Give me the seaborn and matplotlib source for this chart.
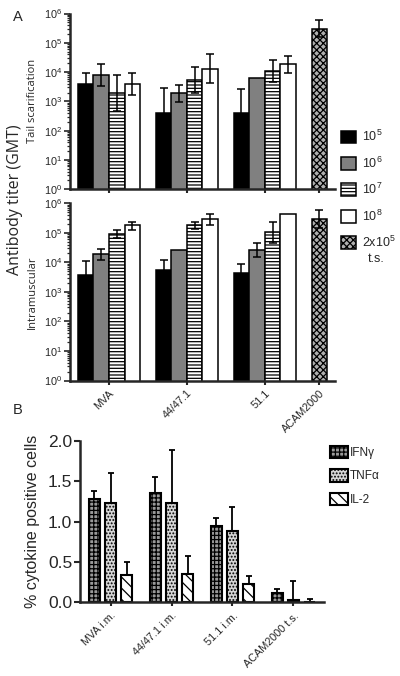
import numpy as np
import pandas as pd
import matplotlib
matplotlib.use("Agg")
import matplotlib.pyplot as plt
from matplotlib.patches import Patch
from matplotlib.ticker import LogLocator, NullFormatter, FormatStrFormatter
import seaborn as sns

# -------------------------------
# Panel A data (GMT antibody titers)
# -------------------------------
groups_a = ["MVA", "44/47.1", "51.1", "ACAM2000"]
doses = ["$10^5$", "$10^6$", "$10^7$", "$10^8$", "2x$10^5$"]
group_doses = [[0, 1, 2, 3], [0, 1, 2, 3], [0, 1, 2, 3], [4]]

scar_gmt = [[3.9e3, 7.8e3, 1.9e3, 3.8e3], [410, 1.9e3, 5.4e3, 1.27e4],
            [410, 6.4e3, 1.1e4, 1.85e4], [2.95e5]]
scar_hi = [[9.5e3, 1.85e4, 7.8e3, 9.3e3], [2.8e3, 3.6e3, 1.5e4, 4.0e4],
           [2.7e3, np.nan, 2.6e4, 3.6e4], [6.0e5]]
scar_lo = [[1.6e3, 3.4e3, 480, 1.65e3], [60, 980, 1.9e3, 4.1e3],
           [60, np.nan, 4.7e3, 9.5e3], [1.55e5]]

im_gmt = [[3.6e3, 1.9e4, 9.1e4, 1.78e5], [5.4e3, 2.6e4, 1.78e5, 2.9e5],
          [4.2e3, 2.6e4, 1.03e5, 4.2e5], [2.9e5]]
im_hi = [[1.1e4, 2.75e4, 1.23e5, 2.4e5], [1.2e4, np.nan, 2.4e5, 4.2e5],
         [8.6e3, 4.6e4, 2.3e5, np.nan], [5.9e5]]
im_lo = [[1.2e3, 1.2e4, 6.5e4, 1.23e5], [2.4e3, np.nan, 1.3e5, 1.9e5],
         [2.0e3, 1.55e4, 4.6e4, np.nan], [1.5e5]]

# -------------------------------
# Panel B data (% cytokine positive cells)
# -------------------------------
groups_b = ["MVA i.m.", "44/47.1 i.m.", "51.1 i.m.", "ACAM2000 t.s."]
cytokines = ["IFNγ", "TNFα", "IL-2"]
cyt_mean = [[1.28, 1.23, 0.34], [1.35, 1.23, 0.35],
            [0.945, 0.88, 0.23], [0.12, 0.03, 0.005]]
cyt_hi = [[1.38, 1.60, 0.50], [1.55, 1.885, 0.57],
          [1.04, 1.18, 0.32], [0.16, 0.26, 0.04]]

# styles
dose_colors = dict(zip(doses, ["black", "#808080", "white", "white", "#b0b0b0"]))
dose_hatch = dict(zip(doses, ["", "", "-----", "", "xxxxx"]))
cyt_colors = dict(zip(cytokines, ["#9a9a9a", "#d6d6d6", "white"]))
cyt_hatch = dict(zip(cytokines, ["++++", ".....", "\\\\\\"]))
group_start = [0, 5, 10, 15]

sns.set_theme(style="ticks")
plt.rcParams["font.family"] = ["Liberation Sans", "DejaVu Sans"]
plt.rcParams["mathtext.fontset"] = "custom"
plt.rcParams["mathtext.rm"] = "Liberation Sans"
plt.rcParams["mathtext.default"] = "regular"
plt.rcParams["hatch.color"] = "black"
plt.rcParams["hatch.linewidth"] = 0.9


def build_a(gmt, lo, hi):
    rows = []
    for g, name in enumerate(groups_a):
        for k, d in enumerate(group_doses[g]):
            rows.append({"group": name, "dose": doses[d], "pos": group_start[g] + k,
                         "gmt": gmt[g][k], "lo": lo[g][k], "hi": hi[g][k]})
    return pd.DataFrame(rows)


def set_hatches(ax, df, col, hatch_map):
    for p in ax.patches:
        xc = p.get_x() + p.get_width() / 2
        i = (df["pos"] - xc).abs().idxmin()
        p.set_hatch(hatch_map[df.loc[i, col]])


def panel_a(ax, gmt, lo, hi, ylabel, show_labels):
    df = build_a(gmt, lo, hi)
    ax.set_yscale("log")
    sns.barplot(data=df, x="pos", y="gmt", hue="dose", hue_order=doses,
                palette=dose_colors, native_scale=True, dodge=False, width=1.0,
                edgecolor="black", linewidth=1.1, errorbar=None, legend=False, ax=ax)
    set_hatches(ax, df, "dose", dose_hatch)
    e = df.dropna()
    ax.errorbar(e["pos"], e["gmt"], yerr=[e["gmt"] - e["lo"], e["hi"] - e["gmt"]],
                fmt="none", ecolor="black", elinewidth=1.1, capsize=3.2, capthick=1.1)
    ax.set_ylim(1, 1e6)
    ax.set_xlim(-1, 16)
    ax.yaxis.set_major_locator(LogLocator(base=10, numticks=10))
    ax.yaxis.set_minor_locator(LogLocator(base=10, subs=np.arange(2, 10), numticks=20))
    ax.yaxis.set_minor_formatter(NullFormatter())
    centers = df.groupby("group", sort=False)["pos"].mean()
    ax.set_xticks(centers.values)
    if show_labels:
        ax.set_xticklabels(groups_a, rotation=45, ha="right", rotation_mode="anchor",
                           fontsize=7.8)
    else:
        ax.set_xticklabels([])
    ax.tick_params(axis="y", which="major", length=4, width=1.2, labelsize=7.8, pad=1.5)
    ax.tick_params(axis="y", which="minor", length=2.5, width=0.9)
    ax.tick_params(axis="x", length=3, width=1.5, pad=2.5)
    for s in ["left", "bottom"]:
        ax.spines[s].set_linewidth(1.8)
    sns.despine(ax=ax)
    ax.set_xlabel("")
    ax.set_ylabel(ylabel, fontsize=8, family=["Open Sans", "DejaVu Sans"])
    ax.yaxis.set_label_coords(-0.12, 0.5)


fig = plt.figure(figsize=(4, 6.76), dpi=100)
ax1 = fig.add_axes([0.175, 0.720, 0.6625, 0.260])
ax2 = fig.add_axes([0.175, 0.437, 0.6625, 0.2624])
ax3 = fig.add_axes([0.200, 0.109, 0.610, 0.239])

panel_a(ax1, scar_gmt, scar_lo, scar_hi, "Tail scarification", False)
panel_a(ax2, im_gmt, im_lo, im_hi, "Intramuscular", True)

# ---------- Panel B ----------
rows = []
for g, name in enumerate(groups_b):
    for j, c in enumerate(cytokines):
        rows.append({"group": name, "cytokine": c, "pos": g * 3.8 + j,
                     "pct": cyt_mean[g][j], "hi": cyt_hi[g][j]})
dfb = pd.DataFrame(rows)

sns.barplot(data=dfb, x="pos", y="pct", hue="cytokine", hue_order=cytokines,
            palette=cyt_colors, native_scale=True, dodge=False, width=0.7,
            edgecolor="black", linewidth=1.5, errorbar=None, legend=False, ax=ax3)
set_hatches(ax3, dfb, "cytokine", cyt_hatch)
ax3.errorbar(dfb["pos"], dfb["pct"], yerr=[np.zeros(len(dfb)), dfb["hi"] - dfb["pct"]],
             fmt="none", ecolor="black", elinewidth=1.3, capsize=2.3, capthick=1.3)
ax3.set_ylim(0, 2.0)
ax3.set_xlim(-0.9, 14.3)
ax3.set_yticks([0, 0.5, 1.0, 1.5, 2.0])
ax3.yaxis.set_major_formatter(FormatStrFormatter("%.1f"))
bc = dfb.groupby("group", sort=False)["pos"].mean()
ax3.set_xticks(bc.values)
ax3.set_xticklabels(groups_b, rotation=45, ha="right", rotation_mode="anchor", fontsize=7.8)
ax3.tick_params(axis="y", length=4, width=1.5, labelsize=12.5, pad=1.5)
ax3.tick_params(axis="x", length=3, width=1.5, pad=3)
for s in ["left", "bottom"]:
    ax3.spines[s].set_linewidth(1.8)
sns.despine(ax=ax3)
ax3.set_xlabel("")
ax3.set_ylabel("% cytokine positive cells", fontsize=11.5)
ax3.yaxis.set_label_coords(-0.164, 0.5)

# ---------- Legends ----------
h_a = [Patch(facecolor=dose_colors[d], edgecolor="black", linewidth=1.1,
             hatch=dose_hatch[d], label=d) for d in doses]
fig.legend(handles=h_a, loc="upper left", bbox_to_anchor=(0.853, 1 - 129 / 676),
           frameon=False, fontsize=9, handlelength=1.2, handleheight=1.2,
           handletextpad=0.5, labelspacing=0.9, borderpad=0, borderaxespad=0)
fig.text(376 / 400, 1 - 259 / 676, "t.s.", fontsize=9, ha="center", va="center")

h_b = [Patch(facecolor=cyt_colors[c], edgecolor="black", linewidth=1.5,
             hatch=cyt_hatch[c], label=c) for c in cytokines]
fig.legend(handles=h_b, loc="upper left", bbox_to_anchor=(0.825, 1 - 446 / 676),
           frameon=False, fontsize=8.5, handlelength=1.5, handleheight=1.2,
           handletextpad=0.15, labelspacing=0.88, borderpad=0, borderaxespad=0)

# ---------- Panel labels ----------
fig.text(0.0375, 0.704, "Antibody titer (GMT)", rotation=90, fontsize=11.5,
         family=["Open Sans", "DejaVu Sans"], ha="center", va="center")
fig.text(0.045, 0.975, "A", fontsize=10.5, ha="center", va="center")
fig.text(0.043, 0.393, "B", fontsize=10.5, ha="center", va="center")

fig.savefig("out.png", dpi=100)
